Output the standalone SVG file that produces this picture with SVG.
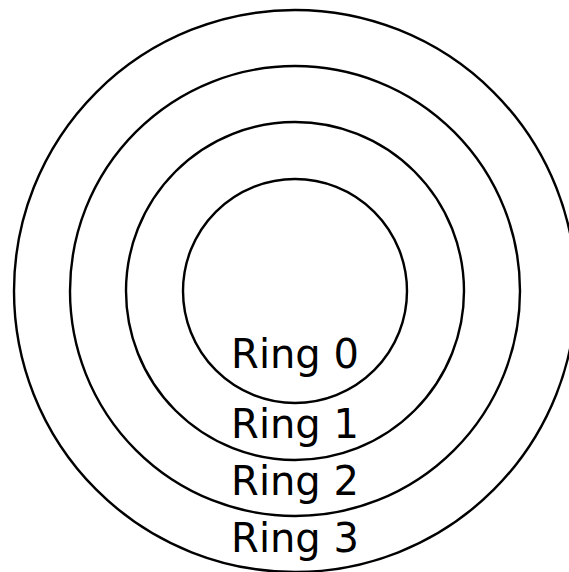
<svg xmlns="http://www.w3.org/2000/svg" width="569" height="572" viewBox="0 0 569 572">
<style>
.ring{fill:none;stroke:#000;stroke-width:2.4}
.lbl{font-family:"DejaVu Sans",sans-serif;font-size:40px;fill:#000;text-anchor:middle}
</style>
<rect width="569" height="572" fill="#fff"/>
<g id="ring3"><circle class="ring" cx="295" cy="291" r="281"/><text class="lbl" x="295" y="552">Ring 3</text></g>
<g id="ring2"><circle class="ring" cx="295" cy="291" r="225"/><text class="lbl" x="295" y="495">Ring 2</text></g>
<g id="ring1"><circle class="ring" cx="295" cy="291" r="169"/><text class="lbl" x="295" y="438">Ring 1</text></g>
<g id="ring0"><circle class="ring" cx="295" cy="291" r="112"/><text class="lbl" x="295" y="368">Ring 0</text></g>
</svg>
